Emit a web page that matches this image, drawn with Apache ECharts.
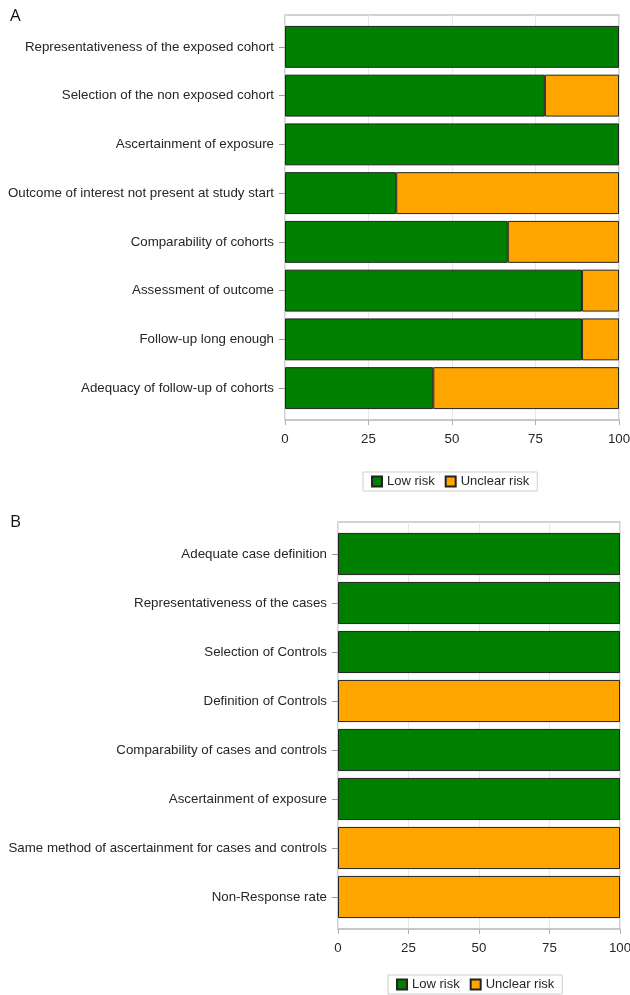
<!DOCTYPE html>
<html>
<head>
<meta charset="utf-8">
<script src="https://cdn.jsdelivr.net/npm/echarts@6/dist/echarts.min.js"></script>
<style>
html,body{margin:0;padding:0;background:#fff;}
#chart{width:630px;height:995px;}
</style>
</head>
<body>
<div id="chart"></div>
<script>
var categoriesA = [
  "Representativeness of the exposed cohort",
  "Selection of the non exposed cohort",
  "Ascertainment of exposure",
  "Outcome of interest not present at study start",
  "Comparability of cohorts",
  "Assessment of outcome",
  "Follow-up long enough",
  "Adequacy of follow-up of cohorts"
];
var lowRiskA = [100, 77.8, 100, 33.3, 66.7, 88.9, 88.9, 44.4];
var unclearRiskA = [0, 22.2, 0, 66.7, 33.3, 11.1, 11.1, 55.6];

var categoriesB = [
  "Adequate case definition",
  "Representativeness of the cases",
  "Selection of Controls",
  "Definition of Controls",
  "Comparability of cases and controls",
  "Ascertainment of exposure",
  "Same method of ascertainment for cases and controls",
  "Non-Response rate"
];
var lowRiskB = [100, 100, 100, 0, 100, 100, 0, 0];
var unclearRiskB = [0, 0, 0, 100, 0, 0, 100, 100];

var xTicks = [0, 25, 50, 75, 100];

var FONT = "Liberation Sans, Arial, sans-serif";
var TXT = "#262626";
var GREEN = "#008000";
var ORANGE = "#FFA500";
var FS = 13.3;

function nz(arr){ return arr.map(function(v){ return v === 0 ? '-' : v; }); }

var chart = echarts.init(document.getElementById('chart'), null, {renderer:'canvas'});

function outerX(gi){
  return {
    type:'value', gridIndex:gi, min:xTicks[0], max:xTicks[xTicks.length-1], interval:25,
    axisLine:{show:true, lineStyle:{color:'#c4c4c4', width:1.5}},
    axisTick:{show:true, length:5, lineStyle:{color:'#b0b0b0'}},
    axisLabel:{color:TXT, fontSize:FS, fontFamily:FONT, margin:13},
    splitLine:{show:true, lineStyle:{color:'#e8e8e8', width:1}}
  };
}
function innerX(gi){
  return {type:'value', gridIndex:gi, min:0, max:100, show:false};
}
function innerY(gi, cats){
  return {
    type:'category', gridIndex:gi, data:cats, inverse:true,
    axisLine:{show:false},
    axisTick:{show:true, alignWithLabel:true, length:6, lineStyle:{color:'#999'}},
    axisLabel:{color:TXT, fontSize:FS, fontFamily:FONT, margin:11},
    splitLine:{show:false}
  };
}
var barStyle = function(c){ return {color:c, borderColor:'#222', borderWidth:1}; };

var option = {
  animation:false,
  backgroundColor:'#fff',
  title:[
    {text:'A', left:5, top:3, textStyle:{fontSize:17, fontWeight:'normal', color:'#111', fontFamily:'Open Sans, sans-serif'}},
    {text:'B', left:5, top:509, textStyle:{fontSize:17, fontWeight:'normal', color:'#111', fontFamily:'Open Sans, sans-serif'}}
  ],
  grid:[
    {left:285, right:11, top:15, height:405, show:true, borderColor:'#c4c4c4', borderWidth:1.5, backgroundColor:'transparent', outerBoundsMode:'none', containLabel:false},
    {left:285, right:11, top:22.5, height:390, outerBoundsMode:'none', containLabel:false},
    {left:338, right:10, top:522, height:407, show:true, borderColor:'#c4c4c4', borderWidth:1.5, backgroundColor:'transparent', outerBoundsMode:'none', containLabel:false},
    {left:338, right:10, top:529.5, height:392, outerBoundsMode:'none', containLabel:false}
  ],
  xAxis:[outerX(0), innerX(1), outerX(2), innerX(3)],
  yAxis:[
    {type:'value', gridIndex:0, show:false},
    innerY(1, categoriesA),
    {type:'value', gridIndex:2, show:false},
    innerY(3, categoriesB)
  ],
  legend:[
    {data:['Low risk','Unclear risk'], left:363, top:472, itemWidth:10, itemHeight:10, itemGap:10,
     padding:[3,8], borderColor:'#cfcfcf', borderWidth:1, icon:'rect',
     textStyle:{color:TXT, fontSize:13, fontFamily:FONT}},
    {data:['Low risk','Unclear risk'], left:388, top:975, itemWidth:10, itemHeight:10, itemGap:10,
     padding:[3,8], borderColor:'#cfcfcf', borderWidth:1, icon:'rect',
     textStyle:{color:TXT, fontSize:13, fontFamily:FONT}}
  ],
  series:[
    {name:'Low risk', type:'bar', xAxisIndex:1, yAxisIndex:1, stack:'a', data:nz(lowRiskA), barCategoryGap:'14%', itemStyle:barStyle(GREEN)},
    {name:'Unclear risk', type:'bar', xAxisIndex:1, yAxisIndex:1, stack:'a', data:nz(unclearRiskA), barCategoryGap:'14%', itemStyle:barStyle(ORANGE)},
    {name:'Low risk', type:'bar', xAxisIndex:3, yAxisIndex:3, stack:'b', data:nz(lowRiskB), barCategoryGap:'14%', itemStyle:barStyle(GREEN)},
    {name:'Unclear risk', type:'bar', xAxisIndex:3, yAxisIndex:3, stack:'b', data:nz(unclearRiskB), barCategoryGap:'14%', itemStyle:barStyle(ORANGE)}
  ]
};
chart.setOption(option);
</script>
</body>
</html>
